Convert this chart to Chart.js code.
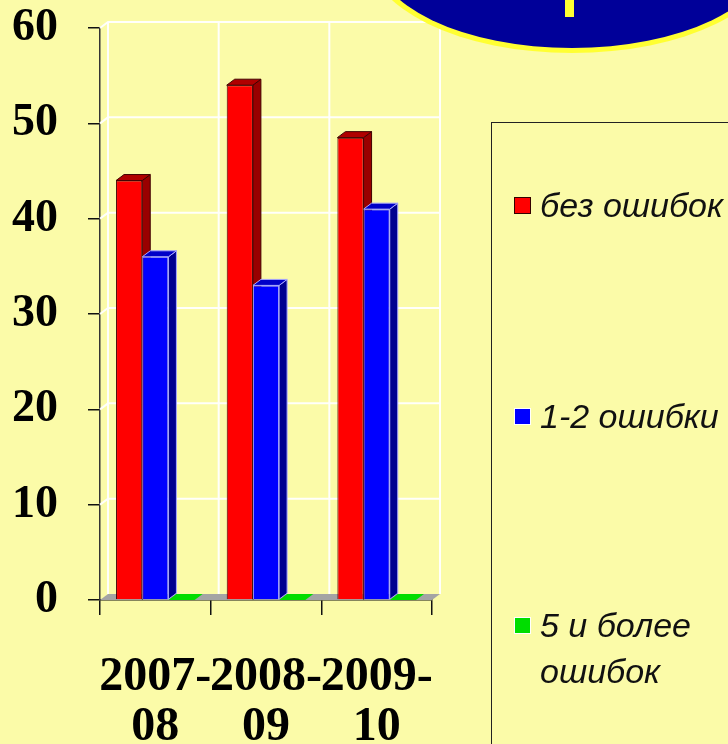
<!DOCTYPE html>
<html>
<head>
<meta charset="utf-8">
<script src="https://cdn.jsdelivr.net/npm/chart.js@4/dist/chart.umd.min.js"></script>
<style>
    html, body { margin: 0; padding: 0; overflow: hidden; background: #fbfba8; }
    #wrap { position: relative; width: 728px; height: 744px; }
    #legendBox {
        position: absolute; left: 491px; top: 122px; width: 300px; height: 700px;
        border: 1.5px solid #222; box-sizing: border-box;
    }
    .legItem { position: absolute; left: 514px; width: 230px; font: italic 34px 'Liberation Sans', Arial, sans-serif; color: #111; }
    .legItem .sw { position: absolute; left: 0; top: 0; width: 17px; height: 17px; box-sizing: border-box; }
    .legItem .txt { position: absolute; left: 26px; top: -15px; line-height: 46px; width: 200px; }
</style>
</head>
<body>
<div id="wrap">
    <canvas id="errorsChart"></canvas>
    <div id="legendBox"></div>
</div>
<script>
// results by year
const categories = [['2007-', '08'], ['2008-', '09'], ['2009-', '10']];
const seriesNames = ['без ошибок', '1-2 ошибки', '5 и более ошибок'];
const noErrors = [44, 54, 48.5];
const oneTwoErrors = [36, 33, 41];
const fivePlusErrors = [0, 0, 0];
const yTicks = [0, 10, 20, 30, 40, 50, 60];

// colours: front, side, top, edge
const palette = [
    { front: '#ff0000', side: '#990000', top: '#b00000', edge: '#400000' },
    { front: '#0000ff', side: '#000090', top: '#0000c8', edge: '#a8a8ff' },
    { front: '#00dd00', side: '#008800', top: '#00cc00', edge: '#a0ffa0' }
];

const DX = 8, DY = 6;

// back wall, floor and the sides/tops of the boxes
const box3d = {
    id: 'box3d',
    beforeDatasetsDraw(chart) {
        const ctx = chart.ctx;
        const x = chart.scales.x, y = chart.scales.y;
        const L = chart.chartArea.left, R = chart.chartArea.right, B = chart.chartArea.bottom;
        ctx.save();
        ctx.strokeStyle = 'rgba(255,255,255,0.95)';
        ctx.lineWidth = 2;
        yTicks.forEach(v => {
            if (v === 0) return;
            const py = y.getPixelForValue(v);
            ctx.beginPath();
            ctx.moveTo(L, py);
            ctx.lineTo(L + DX, py - DY);
            ctx.lineTo(R + DX, py - DY);
            ctx.stroke();
        });
        const top = y.getPixelForValue(yTicks[yTicks.length - 1]);
        for (let i = 0; i <= categories.length; i++) {
            const px = i === 0 ? L : (i === categories.length ? R : (x.getPixelForValue(i - 1) + x.getPixelForValue(i)) / 2);
            ctx.beginPath();
            ctx.moveTo(px + DX, top - DY);
            ctx.lineTo(px + DX, B - DY);
            ctx.stroke();
        }
        // floor
        ctx.fillStyle = '#a4a4a4';
        ctx.beginPath();
        ctx.moveTo(L, B); ctx.lineTo(L + DX, B - DY); ctx.lineTo(R + DX, B - DY); ctx.lineTo(R, B);
        ctx.closePath(); ctx.fill();

        chart.data.datasets.forEach((ds, di) => {
            const c = palette[di];
            chart.getDatasetMeta(di).data.forEach(el => {
                const l = el.x - el.width / 2, r = el.x + el.width / 2;
                const t = el.y, b = el.base;
                const solid = b - t > 0.5;
                ctx.lineWidth = 1;
                ctx.strokeStyle = c.edge;
                if (solid) {
                    ctx.fillStyle = c.side;
                    ctx.beginPath();
                    ctx.moveTo(r, t); ctx.lineTo(r + DX, t - DY); ctx.lineTo(r + DX, b - DY); ctx.lineTo(r, b);
                    ctx.closePath(); ctx.fill(); ctx.stroke();
                }
                ctx.fillStyle = solid ? c.top : c.front;
                ctx.beginPath();
                ctx.moveTo(l, t); ctx.lineTo(l + DX, t - DY); ctx.lineTo(r + DX, t - DY); ctx.lineTo(r, t);
                ctx.closePath(); ctx.fill();
                if (solid) ctx.stroke();
            });
        });
        ctx.restore();
    },
    afterDraw(chart) {
        // slide title shape at the top
        const ctx = chart.ctx;
        ctx.save();
        ctx.fillStyle = '#ffff33';
        ctx.beginPath();
        ctx.ellipse(572, -47, 204, 100, 0, 0, Math.PI * 2);
        ctx.fill();
        ctx.fillStyle = '#000099';
        ctx.beginPath();
        ctx.ellipse(572, -47, 198, 95, 0, 0, Math.PI * 2);
        ctx.fill();
        ctx.fillStyle = '#ffff33';
        ctx.fillRect(565, 0, 9, 17);
        ctx.restore();
    }
};

const valueSets = [noErrors, oneTwoErrors, fivePlusErrors];

const errorsChart = new Chart(document.getElementById('errorsChart'), {
    type: 'bar',
    data: {
        labels: categories,
        datasets: seriesNames.map((name, i) => ({
            label: name,
            data: valueSets[i],
            backgroundColor: palette[i].front,
            borderColor: palette[i].edge,
            borderWidth: 1,
            categoryPercentage: 0.71,
            barPercentage: 1
        }))
    },
    options: {
        responsive: true,
        maintainAspectRatio: false,
        animation: false,
        layout: { padding: { top: 0, right: 296, left: 0, bottom: 0 } },
        plugins: {
            legend: { display: false },
            tooltip: { enabled: false }
        },
        scales: {
            x: {
                afterFit(scale) { scale.height = 144; },
                grid: { drawOnChartArea: false, tickLength: 15, tickColor: '#111', lineWidth: 1.5 },
                border: { color: '#111', width: 1.5 },
                ticks: {
                    color: '#000',
                    padding: 37,
                    maxRotation: 0,
                    autoSkip: false,
                    font: { family: "'Liberation Serif', 'Times New Roman', serif", size: 48, weight: 'bold', lineHeight: 1.05 }
                }
            },
            y: {
                min: 0,
                max: 60,
                afterFit(scale) {
                    scale.width = 100;
                    scale.paddingTop = 28;
                    scale.paddingBottom = 0;
                },
                grid: { drawOnChartArea: false, tickLength: 12, tickColor: '#111', lineWidth: 1.5 },
                border: { color: '#333', width: 1.5 },
                ticks: {
                    stepSize: 10,
                    color: '#000',
                    padding: 30,
                    font: { family: "'Liberation Serif', 'Times New Roman', serif", size: 46, weight: 'bold' }
                }
            }
        }
    },
    plugins: [box3d]
});

// legend built from the datasets
const legendTops = [197, 408, 617];
errorsChart.data.datasets.forEach((ds, i) => {
    const item = document.createElement('div');
    item.className = 'legItem';
    item.style.top = legendTops[i] + 'px';
    const sw = document.createElement('div');
    sw.className = 'sw';
    sw.style.background = ds.backgroundColor;
    sw.style.border = i === 0 ? '1.5px solid #300' : '1.5px solid #fff';
    const txt = document.createElement('div');
    txt.className = 'txt';
    txt.textContent = ds.label;
    item.appendChild(sw);
    item.appendChild(txt);
    document.getElementById('wrap').appendChild(item);
});
</script>
</body>
</html>
